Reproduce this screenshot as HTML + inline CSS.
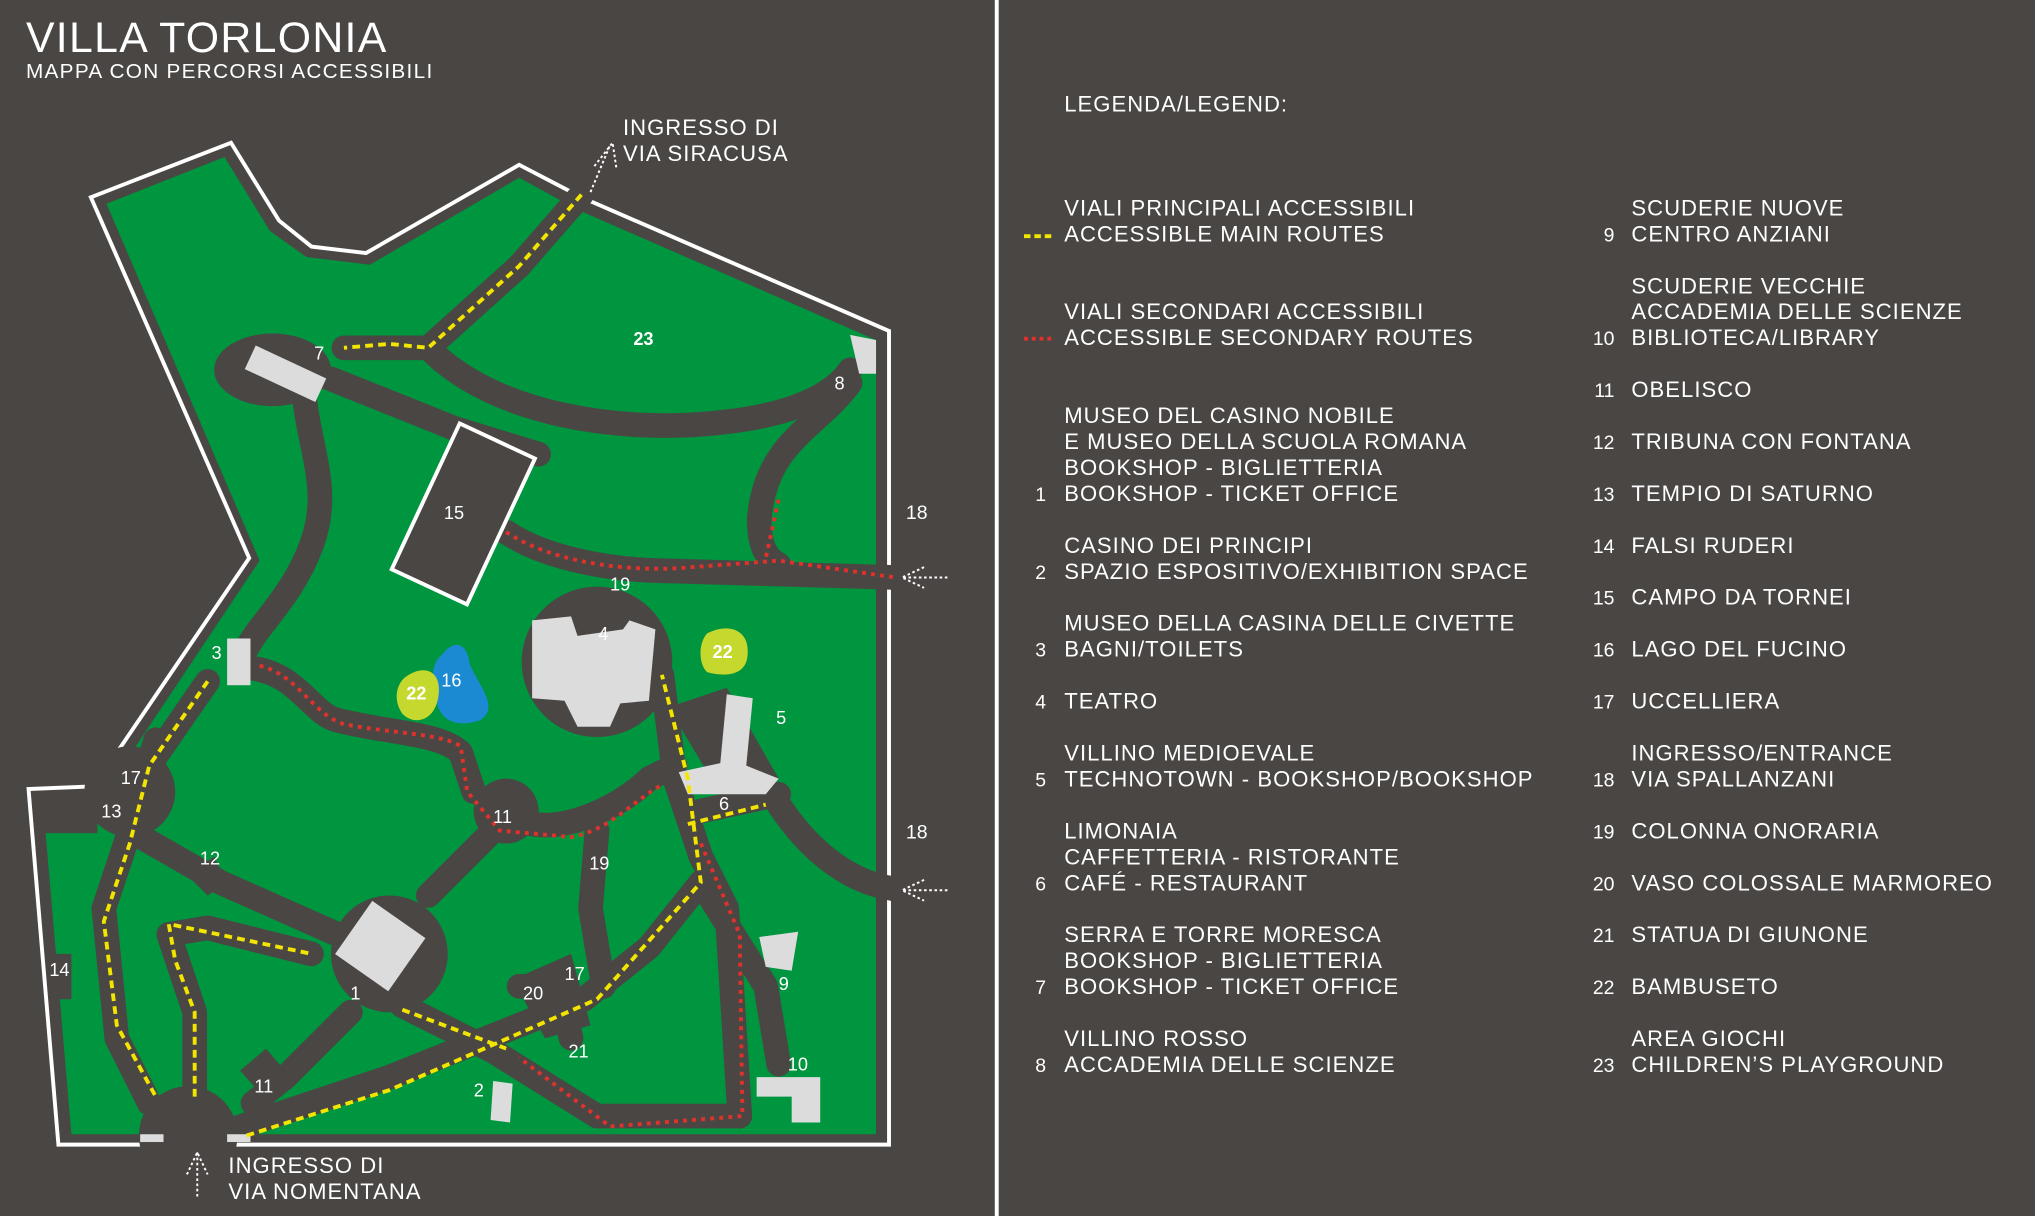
<!DOCTYPE html>
<html><head><meta charset="utf-8"><style>
html,body{margin:0;padding:0;background:#4a4644;}
svg{display:block;}
text{font-family:"Liberation Sans",sans-serif;fill:#fff;}
.lg{font-size:17px;letter-spacing:0.8px;}
.n{font-size:15px;}
.m{font-size:14px;}
</style></head><body>
<svg width="2035" height="1216" viewBox="0 0 1568 937" preserveAspectRatio="none" xmlns="http://www.w3.org/2000/svg">
<rect width="1568" height="937" fill="#4a4644"/>
<text x="20" y="40" style="font-size:33px;letter-spacing:1px">VILLA TORLONIA</text>
<text x="20" y="60" style="font-size:16px;letter-spacing:1px">MAPPA CON PERCORSI ACCESSIBILI</text>
<line x1="768" y1="0" x2="768" y2="937" stroke="#fff" stroke-width="3"/>

<polygon points="70,152 178,110 215,170 240,190 282,195 400,127 448,152 685,255 685,882 45,882 22,608 70,606 90,580 192,430" fill="#4a4644" stroke="#fff" stroke-width="3"/>
<polygon points="82,157 173,121 208,178 236,198 285,204 400,137 446,162 675,262 675,874 55,874 35,640 70,640 98,585 200,432" fill="#00953f"/>
<rect x="35" y="610" width="40" height="32" fill="#4a4644"/>

<g fill="none" stroke="#4a4644" stroke-width="19" stroke-linecap="round" stroke-linejoin="round">
<path d="M448,150 L400,205 L330,268 L265,268"/>
<path d="M330,268 C380,320 480,335 560,325 C620,318 645,300 655,285"/>
<path d="M255,292 L350,330 L415,350"/>
<path d="M235,310 C240,350 255,380 240,420 C225,460 200,480 190,500"/>
<path d="M655,295 C630,330 590,340 585,400 C585,420 590,430 600,435"/>
<path d="M390,410 C420,430 470,440 520,440 L690,445"/>
<path d="M195,515 C230,520 240,550 260,555 C300,565 340,565 355,580 L365,610"/>
<path d="M410,635 C440,640 480,620 500,600 L520,590"/>
<path d="M510,520 L520,600 L540,660 L560,700 L570,860"/>
<path d="M540,625 L600,612"/>
<path d="M600,620 C620,650 650,680 690,685"/>
<path d="M380,640 L330,690"/>
<path d="M260,720 L170,680 L100,640"/>
<path d="M120,570 L100,640 L80,700 L90,800 L115,850"/>
<path d="M150,850 L150,780 L130,720 L160,715 L240,735"/>
<path d="M310,775 L380,810 L460,860 L570,860"/>
<path d="M180,870 L300,830 L450,770 L500,730 L540,680"/>
<path d="M270,780 L220,830 L195,850"/>
<path d="M460,640 L455,700 L465,760"/>
<path d="M160,525 L115,590"/>
<path d="M540,680 L590,760 L600,820"/>
<path d="M400,760 L430,760 L440,800"/>
</g>
<g fill="#4a4644">
<ellipse cx="210" cy="285" rx="45" ry="28"/>
<circle cx="460" cy="510" r="58"/>
<circle cx="390" cy="625" r="25"/>
<circle cx="300" cy="735" r="45"/>
<circle cx="100" cy="610" r="35"/>
<circle cx="145" cy="875" r="38"/>
<rect x="40" y="735" width="15" height="35"/>
<polygon points="145,675 165,660 175,680 160,690"/>
<polygon points="185,825 205,808 222,828 203,845"/>
<polygon points="395,755 440,735 455,790 420,800"/>
<polygon points="515,545 560,530 600,600 560,620"/>
</g>

<g transform="translate(357,396) rotate(25)"><rect x="-32" y="-62" width="64" height="124" fill="#4a4644" stroke="#fff" stroke-width="3"/></g>

<g fill="#dcdcdc">
<g transform="translate(220,288) rotate(25)"><rect x="-30" y="-10" width="60" height="20"/></g>
<rect x="175" y="492" width="18" height="36"/>
<polygon points="410,478 440,475 445,490 480,485 485,478 505,485 500,540 478,542 470,560 445,560 435,540 410,538"/>
<polygon points="560,535 580,538 575,590 600,600 590,612 530,612 523,595 555,588"/>
<g transform="translate(293,729) rotate(35)"><rect x="-25" y="-25" width="50" height="50"/></g>
<polygon points="655,258 675,262 675,288 662,288"/>
<polygon points="585,722 615,718 610,748 590,745"/>
<polygon points="583,830 632,830 632,865 610,865 610,845 583,845"/>
<polygon points="380,833 395,835 393,865 378,863"/>
<rect x="108" y="874" width="18" height="6"/><rect x="175" y="874" width="18" height="6"/>
</g>

<path d="M340,505 C350,492 360,495 362,512 C370,530 385,545 370,555 C355,560 340,558 336,540 C332,525 332,512 340,505 Z" fill="#1b8ad3"/>
<path d="M312,522 C325,512 340,515 338,535 C336,555 320,560 310,550 C303,540 305,528 312,522 Z" fill="#c4d82d"/>
<path d="M545,488 C560,480 578,484 576,505 C575,520 560,522 545,518 C538,512 538,495 545,488 Z" fill="#c4d82d"/>

<g fill="none" stroke="#f2e500" stroke-width="3" stroke-dasharray="6 4">
<path d="M448,150 L400,205 L330,268 L300,265 L265,268"/>
<path d="M160,525 L115,590 L100,650 L80,710 L90,790 L120,845"/>
<path d="M150,845 L150,780 L135,740 L130,712 L240,735"/>
<path d="M310,778 L390,808"/>
<path d="M190,875 L300,840 L460,770 L540,680 L530,600 L510,520"/>
<path d="M530,635 L590,620"/>
</g>
<g fill="none" stroke="#e0322b" stroke-width="3" stroke-dasharray="3 4">
<path d="M390,410 C420,430 470,440 520,438 L600,432 L690,445"/>
<path d="M600,385 L590,430"/>
<path d="M200,513 C230,520 240,550 265,558 C300,565 340,565 355,575 L360,610 L385,640 L440,645 C470,640 490,615 510,605"/>
<path d="M540,650 L570,720 L572,860 L470,868 L400,815"/>
</g>

<g fill="none" stroke="#fff" stroke-width="1.5" stroke-dasharray="2 2">
<path d="M455,148 L470,112 M458,128 L472,110 L475,130"/>
<path d="M730,445 L695,445 M712,437 L695,445 L712,453"/>
<path d="M730,686 L695,686 M712,678 L695,686 L712,694"/>
<path d="M152,922 L152,888 M144,905 L152,888 L160,905"/>
</g>

<text x="480" y="104" class="lg">INGRESSO DI</text>
<text x="480" y="124" class="lg">VIA SIRACUSA</text>
<text x="176" y="904" class="lg">INGRESSO DI</text>
<text x="176" y="924" class="lg">VIA NOMENTANA</text>
<text x="698" y="400" class="n">18</text>
<text x="698" y="646" class="n">18</text>
<g class="m">
<text x="488" y="266" style="font-weight:bold">23</text>
<text x="242" y="277">7</text>
<text x="643" y="300">8</text>
<text x="342" y="400">15</text>
<text x="470" y="455">19</text>
<text x="461" y="493">4</text>
<text x="163" y="508">3</text>
<text x="340" y="529">16</text>
<text x="313" y="539" style="font-weight:bold">22</text>
<text x="549" y="507" style="font-weight:bold">22</text>
<text x="598" y="558">5</text>
<text x="554" y="624">6</text>
<text x="380" y="634">11</text>
<text x="93" y="604">17</text>
<text x="78" y="630">13</text>
<text x="154" y="666">12</text>
<text x="454" y="670">19</text>
<text x="38" y="752">14</text>
<text x="270" y="770">1</text>
<text x="435" y="755">17</text>
<text x="403" y="770">20</text>
<text x="600" y="763">9</text>
<text x="438" y="815">21</text>
<text x="196" y="842">11</text>
<text x="365" y="845">2</text>
<text x="607" y="825">10</text>
</g>

<g class="lg">
<text x="820" y="86">LEGENDA/LEGEND:</text>
<text x="820" y="166">VIALI PRINCIPALI ACCESSIBILI</text>
<text x="820" y="186">ACCESSIBLE MAIN ROUTES</text>
<text x="820" y="246">VIALI SECONDARI ACCESSIBILI</text>
<text x="820" y="266">ACCESSIBLE SECONDARY ROUTES</text>
<text x="820" y="326">MUSEO DEL CASINO NOBILE</text>
<text x="820" y="346">E MUSEO DELLA SCUOLA ROMANA</text>
<text x="820" y="366">BOOKSHOP - BIGLIETTERIA</text>
<text x="820" y="386">BOOKSHOP - TICKET OFFICE</text>
<text x="820" y="426">CASINO DEI PRINCIPI</text>
<text x="820" y="446">SPAZIO ESPOSITIVO/EXHIBITION SPACE</text>
<text x="820" y="486">MUSEO DELLA CASINA DELLE CIVETTE</text>
<text x="820" y="506">BAGNI/TOILETS</text>
<text x="820" y="546">TEATRO</text>
<text x="820" y="586">VILLINO MEDIOEVALE</text>
<text x="820" y="606">TECHNOTOWN - BOOKSHOP/BOOKSHOP</text>
<text x="820" y="646">LIMONAIA</text>
<text x="820" y="666">CAFFETTERIA - RISTORANTE</text>
<text x="820" y="686">CAFÉ - RESTAURANT</text>
<text x="820" y="726">SERRA E TORRE MORESCA</text>
<text x="820" y="746">BOOKSHOP - BIGLIETTERIA</text>
<text x="820" y="766">BOOKSHOP - TICKET OFFICE</text>
<text x="820" y="806">VILLINO ROSSO</text>
<text x="820" y="826">ACCADEMIA DELLE SCIENZE</text>

<text x="1257" y="166">SCUDERIE NUOVE</text>
<text x="1257" y="186">CENTRO ANZIANI</text>
<text x="1257" y="226">SCUDERIE VECCHIE</text>
<text x="1257" y="246">ACCADEMIA DELLE SCIENZE</text>
<text x="1257" y="266">BIBLIOTECA/LIBRARY</text>
<text x="1257" y="306">OBELISCO</text>
<text x="1257" y="346">TRIBUNA CON FONTANA</text>
<text x="1257" y="386">TEMPIO DI SATURNO</text>
<text x="1257" y="426">FALSI RUDERI</text>
<text x="1257" y="466">CAMPO DA TORNEI</text>
<text x="1257" y="506">LAGO DEL FUCINO</text>
<text x="1257" y="546">UCCELLIERA</text>
<text x="1257" y="586">INGRESSO/ENTRANCE</text>
<text x="1257" y="606">VIA SPALLANZANI</text>
<text x="1257" y="646">COLONNA ONORARIA</text>
<text x="1257" y="686">VASO COLOSSALE MARMOREO</text>
<text x="1257" y="726">STATUA DI GIUNONE</text>
<text x="1257" y="766">BAMBUSETO</text>
<text x="1257" y="806">AREA GIOCHI</text>
<text x="1257" y="826">CHILDREN’S PLAYGROUND</text>
</g>
<g class="n" text-anchor="end">
<text x="806" y="386">1</text><text x="806" y="446">2</text><text x="806" y="506">3</text>
<text x="806" y="546">4</text><text x="806" y="606">5</text><text x="806" y="686">6</text>
<text x="806" y="766">7</text><text x="806" y="826">8</text>
<text x="1244" y="186">9</text><text x="1244" y="266">10</text><text x="1244" y="306">11</text>
<text x="1244" y="346">12</text><text x="1244" y="386">13</text><text x="1244" y="426">14</text>
<text x="1244" y="466">15</text><text x="1244" y="506">16</text><text x="1244" y="546">17</text>
<text x="1244" y="606">18</text><text x="1244" y="646">19</text><text x="1244" y="686">20</text>
<text x="1244" y="726">21</text><text x="1244" y="766">22</text><text x="1244" y="826">23</text>
</g>
<line x1="789" y1="182" x2="812" y2="182" stroke="#f2e500" stroke-width="3" stroke-dasharray="5 3"/>
<line x1="789" y1="261" x2="812" y2="261" stroke="#e0322b" stroke-width="3" stroke-dasharray="3 3"/>
</svg>
</body></html>
